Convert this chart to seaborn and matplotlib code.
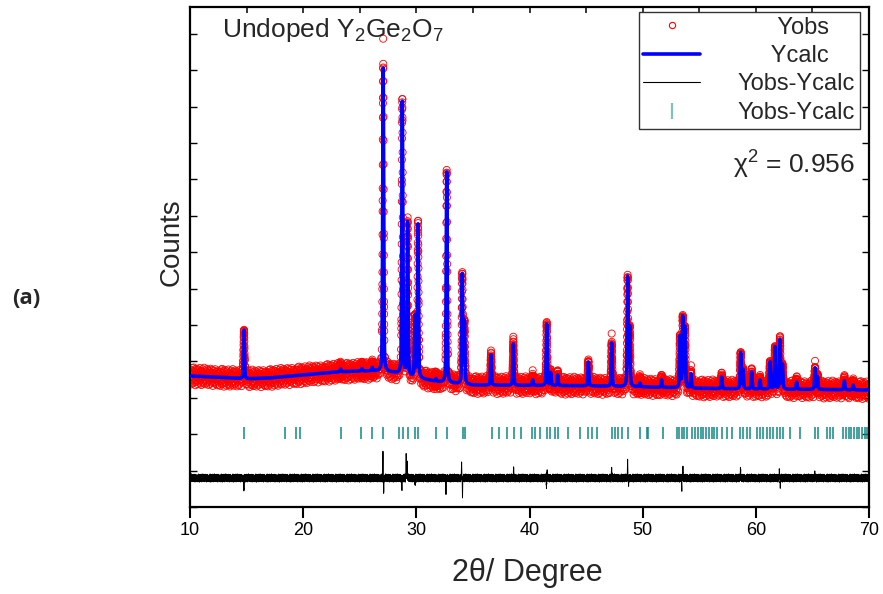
import numpy as np
import pandas as pd
import matplotlib
matplotlib.use("Agg")
import matplotlib.pyplot as plt
import seaborn as sns
from matplotlib.lines import Line2D

# ---------------- data (2theta in degrees, counts) ----------------
bg_pos = [10, 12, 15, 17, 19, 21, 23, 25, 26.5, 28, 30, 32, 35, 40, 45, 50, 55, 60, 65, 70]
bg_val = [3600, 3570, 3520, 3545, 3600, 3655, 3710, 3735, 3735, 3690, 3545, 3435, 3350,
          3340, 3330, 3300, 3260, 3240, 3230, 3215]

peak_pos = [14.77, 23.3, 25.2, 26.1, 27.07, 28.76, 29.23, 29.88, 30.15, 31.73, 32.68,
            34.06, 34.25, 36.6, 38.57, 40.28, 41.52, 41.87, 42.49, 45.2, 47.26, 48.67,
            48.85, 49.76, 51.67, 53.3, 53.54, 53.74, 54.27, 56.98, 58.66, 58.87, 59.63,
            60.37, 61.25, 61.69, 62.13, 62.35, 63.6, 65.23, 65.45, 67.82, 68.6]
peak_calc_top = [4863, 3790, 3800, 3830, 12060, 11126, 7802, 5220, 7747, 3520, 9203,
                 6374, 5055, 4176, 4478, 3489, 5027, 3681, 3626, 3984, 4505, 6291,
                 4900, 3407, 3489, 4670, 5192, 4918, 3654, 3571, 4231, 3764, 3709,
                 3489, 3984, 4396, 4588, 3900, 3434, 3819, 3571, 3462, 3350]
peak_obs_top = [4863, 3790, 3800, 3830, 12885, 11180, 7912, 5220, 7830, 3520, 9258,
                6429, 5055, 4286, 4670, 3681, 5055, 3681, 3736, 4038, 4753, 6319,
                4900, 3480, 3599, 4670, 5192, 4918, 3819, 3709, 4258, 3764, 3790,
                3489, 3984, 4396, 4670, 3900, 3434, 3984, 3571, 3540, 3350]

diff_pos = [14.77, 27.05, 27.12, 28.72, 29.1, 29.2, 29.9, 32.62, 34.0, 34.08, 38.6,
            41.5, 41.56, 47.26, 48.67, 48.75, 53.45, 53.55, 58.65, 62.08, 62.16, 65.2]
diff_amp = [-385, 797, -440, -330, 630, 400, -190, -440, 330, -500, 300,
            -250, 180, 270, 490, -200, -330, 270, 270, 240, -190, 150]

tick_pos = [14.77, 18.4, 19.36, 19.72, 23.34, 25.1, 26.1, 27.07, 28.45, 28.78, 29.27,
            29.87, 30.16, 31.73, 32.67, 34.08, 34.29, 36.65, 37.32, 38.03, 38.62, 39.29,
            40.19, 40.48, 40.92, 41.51, 41.81, 42.25, 42.54, 43.43, 44.46, 45.2, 45.49,
            45.93, 47.26, 47.55, 47.85, 48.14, 48.73, 49.76, 50.35, 50.5, 51.76, 53.0,
            53.2, 53.44, 53.65, 53.88, 54.33, 54.62, 54.91, 55.12, 55.36, 55.6, 55.83,
            56.1, 56.3, 56.53, 56.98, 57.42, 57.86, 58.6, 58.89, 59.19, 59.48, 60.07,
            60.36, 60.66, 60.95, 61.25, 61.54, 61.84, 62.13, 62.43, 63.02, 63.9, 65.22,
            65.52, 66.26, 66.55, 66.84, 67.73, 67.96, 68.2, 68.43, 68.67, 68.9, 69.14,
            69.38, 69.61, 69.85]

# scatter of the observed points / difference trace about their mean (relative units)
scatter = [0.42, -0.81, 0.13, 0.67, -0.35, -0.92, 0.58, 0.04, -0.47, 0.88, -0.16, 0.31,
           -0.73, 0.95, -0.28, 0.51, -0.62, 0.09, 0.76, -0.99, 0.22, -0.41, 0.64, -0.07,
           0.83, -0.55, 0.18, -0.86, 0.37, 0.71, -0.24, -0.68, 0.49, -0.12, 0.92, -0.38,
           0.06, -0.79, 0.55, 0.27, -0.94, 0.61, -0.19, 0.34, -0.57, 0.81, -0.03, 0.46,
           -0.72, 0.15, 0.98, -0.45, -0.09, 0.69, -0.83, 0.28, -0.31, 0.57, -0.66, 0.11,
           0.85, -0.52, 0.39, -0.14, 0.74, -0.89, 0.21, -0.36, 0.63, -0.02, 0.47, -0.77,
           0.33, 0.9, -0.26, -0.6, 0.52, -0.11, 0.79, -0.43, 0.08, -0.97, 0.44, 0.19,
           -0.64, 0.7, -0.21, 0.36, -0.53, 0.87, -0.06, 0.25, -0.75, 0.59, -0.33, 0.12,
           -0.88, 0.66, -0.18, 0.41, -0.49]

diff_level = 797
top_tick_pos = list(range(10, 71, 5))
legend_labels = ["Yobs", "Ycalc", "Yobs-Ycalc", "Yobs-Ycalc"]

# ---------------- build profiles ----------------
FWHM = 0.1
ETA = 0.4


def profile(x):
    bg = np.interp(x, bg_pos, bg_val)
    y = bg.copy()
    for p, top in zip(peak_pos, peak_calc_top):
        amp = top - np.interp(p, bg_pos, bg_val)
        d = (x - p) / (FWHM / 2)
        lor = 1.0 / (1.0 + d ** 2)
        gau = np.exp(-np.log(2) * d ** 2)
        y += amp * (ETA * lor + (1 - ETA) * gau)
    return y, bg


x_calc = np.union1d(np.round(np.arange(10, 70.0001, 0.005), 3), peak_pos)
y_calc, _ = profile(x_calc)

# observed sampling: coarse step, denser on the peak flanks
coarse = np.round(np.arange(10, 70.0001, 0.025), 3)
fine = np.round(np.arange(10, 70.0001, 0.006), 3)
near = np.min(np.abs(fine[:, None] - np.array(peak_pos)[None, :]), axis=1) < 0.1
x_obs = np.union1d(np.union1d(coarse, fine[near]), peak_pos)
y_obs_c, bg_obs = profile(x_obs)
excess = np.zeros_like(x_obs)
for p, tc, to in zip(peak_pos, peak_calc_top, peak_obs_top):
    excess += (to - tc) * np.exp(-((x_obs - p) / 0.004) ** 2)
weight = np.clip(1 - (y_obs_c - bg_obs) / 700.0, 0.1, 1.0)
y_obs = y_obs_c + excess + 250 * weight * np.resize(np.array(scatter), len(x_obs))

x_diff = np.round(np.arange(10, 70.0001, 0.01), 3)
sc2 = np.resize(np.array(scatter[37:] + scatter[:37]), len(x_diff))
y_diff = diff_level + 115 * sc2
for p, a in zip(diff_pos, diff_amp):
    y_diff += a * np.exp(-((x_diff - p) / 0.02) ** 2)

df_obs = pd.DataFrame({"x": x_obs, "y": y_obs})
df_calc = pd.DataFrame({"x": x_calc, "y": y_calc})
df_diff = pd.DataFrame({"x": x_diff, "y": y_diff})

# ---------------- plot ----------------
sns.set_style("ticks")
plt.rcParams["font.family"] = ["Liberation Sans", "DejaVu Sans"]

fig = plt.figure(figsize=(8.83, 5.94), dpi=100)
ax = fig.add_axes([190 / 883, 87 / 594, 679 / 883, 500 / 594])

sns.scatterplot(data=df_obs, x="x", y="y", ax=ax, marker="o", s=26,
                fc="none", ec="red", linewidth=0.6, zorder=2, legend=False)
sns.lineplot(data=df_calc, x="x", y="y", ax=ax, color="blue", lw=2.6,
             estimator=None, sort=False, zorder=3, legend=False)
sns.lineplot(data=df_diff, x="x", y="y", ax=ax, color="black", lw=0.7,
             estimator=None, sort=False, zorder=3, legend=False)
ax.vlines(tick_pos, 1860, 2190, color="#118888", lw=1.1, zorder=2)

ax.set_xlim(10, 70)
ax.set_ylim(0, 13736)
ax.set_xticks(range(10, 71, 10))
ax.set_yticks(range(0, 13737, 1000))
ax.set_yticklabels([])
ax.set_xlabel("")
ax.set_ylabel("")
for s in ax.spines.values():
    s.set_visible(True)
    s.set_linewidth(1.6)
    s.set_color("black")
ax.tick_params(axis="x", which="major", direction="out", length=8, width=1.5,
               labelsize=13, pad=3, bottom=True, top=False, color="black",
               labelcolor="black")
ax.tick_params(axis="y", which="major", direction="in", length=5, width=1.0,
               left=True, right=True, color="black")
# inward tick marks along the top frame, every 5 degrees
ax.vlines(top_tick_pos, 1 - 6 / 500, 1, transform=ax.get_xaxis_transform(),
          color="black", lw=1.1, zorder=5, clip_on=False)

handles = [
    Line2D([], [], marker="o", ls="none", mfc="none", mec="red", ms=4.5, mew=0.8),
    Line2D([], [], color="blue", lw=2.6),
    Line2D([], [], color="black", lw=0.8),
    Line2D([], [], marker="|", ls="none", color="#80c0c0", ms=12, mew=1.6),
]
labels = ["      " + legend_labels[0], "     " + legend_labels[1], legend_labels[2], legend_labels[3]]
leg = ax.legend(handles, labels, loc="upper right", bbox_to_anchor=(860 / 883, 1 - 12 / 594),
                bbox_transform=fig.transFigure, borderaxespad=0, fancybox=False,
                framealpha=1, edgecolor="#333333", fontsize=17, handlelength=2.4,
                handletextpad=1.6, labelspacing=0.27, borderpad=0.2)
leg.get_frame().set_linewidth(1.0)
leg.set_zorder(10)

ax.text(32 / 679, (507 - 16) / 500, r"Undoped $\mathregular{Y_2Ge_2O_7}$",
        transform=ax.transAxes, va="top", ha="left", fontsize=19)
ax.text((855 - 190) / 679, (507 - 165) / 500, r"$\mathregular{χ^{2}}$ = 0.956",
        transform=ax.transAxes, va="center", ha="right", fontsize=19)

fig.text(12 / 883, 1 - 299 / 594, "(a)", fontsize=16, fontweight="bold",
         family=["Open Sans", "DejaVu Sans"], va="center", ha="left")
fig.text(172 / 883, 1 - 242 / 594, "Counts", fontsize=20, rotation=90,
         va="center", ha="center")
fig.text(527 / 883, 1 - 573 / 594, "2θ/ Degree", fontsize=22,
         va="center", ha="center")

fig.savefig("out.png", dpi=100)
